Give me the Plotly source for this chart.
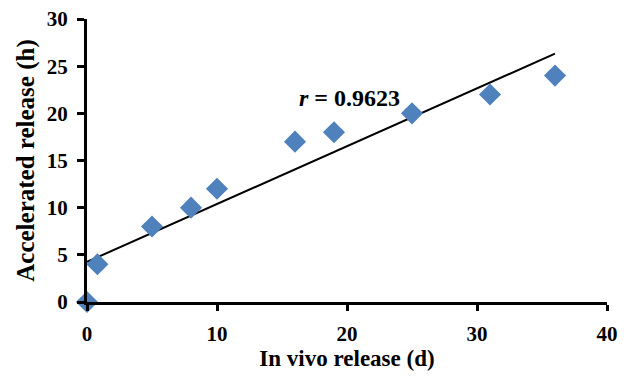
import numpy as np
import plotly.graph_objects as go

in_vivo_days = [0, 0.8, 5, 8, 10, 16, 19, 25, 31, 36]
accelerated_h = [0, 4, 8, 10, 12, 17, 18, 20, 22, 24]
x_ticks = [0, 10, 20, 30, 40]
y_ticks = [0, 5, 10, 15, 20, 25, 30]
r_label = "<i>r</i> = 0.9623"

slope, intercept = np.polyfit(in_vivo_days, accelerated_h, 1)
fit_x = [min(in_vivo_days), max(in_vivo_days)]
fit_y = [slope * v + intercept for v in fit_x]

font_family = "Liberation Serif, Times New Roman, serif"

fig = go.Figure()
fig.add_trace(go.Scatter(x=fit_x, y=fit_y, mode="lines",
                         line=dict(color="black", width=2), showlegend=False))
fig.add_trace(go.Scatter(x=in_vivo_days, y=accelerated_h, mode="markers",
                         marker=dict(symbol="diamond", size=17, color="#4F81BD",
                                     line=dict(width=0)),
                         cliponaxis=False, showlegend=False))

fig.add_annotation(x=20.2, y=21.6, text=r_label, showarrow=False,
                   font=dict(family=font_family, size=24, color="black", weight="bold"))

fig.update_layout(
    width=628, height=376,
    margin=dict(l=87, r=21, t=19, b=74),
    paper_bgcolor="white", plot_bgcolor="white",
    font=dict(family=font_family, color="black"),
)
fig.update_xaxes(range=[0, 40], tickvals=x_ticks, showgrid=False, zeroline=False,
                 automargin=False,
                 showline=True, linecolor="black", linewidth=3,
                 ticks="outside", ticklen=6, tickwidth=2.5, tickcolor="black",
                 tickfont=dict(size=21, weight="bold"), ticklabelstandoff=5,
                 title=dict(text="In vivo release (d)", standoff=4,
                            font=dict(size=23, weight="bold")))
fig.update_yaxes(range=[0, 30], tickvals=y_ticks, showgrid=False, zeroline=False,
                 automargin=False,
                 showline=True, linecolor="black", linewidth=3,
                 ticks="outside", ticklen=7, tickwidth=2.5, tickcolor="black",
                 tickfont=dict(size=21, weight="bold"), ticklabelstandoff=5,
                 title=dict(text="Accelerated release (h)", standoff=6,
                            font=dict(size=25, weight="bold")))

fig.write_html("out.html")
